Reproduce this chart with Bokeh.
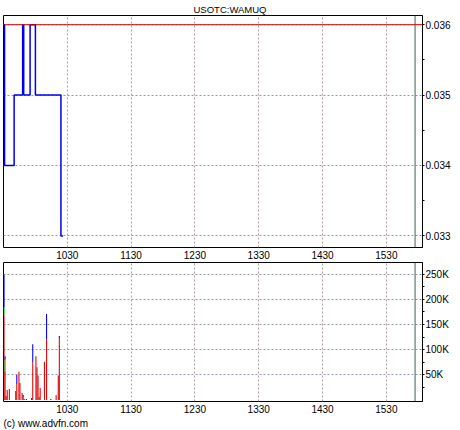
from bokeh.plotting import figure
from bokeh.layouts import column
from bokeh.models import Range1d, FixedTicker, Span, Title, NumeralTickFormatter, ColumnDataSource
from bokeh.embed import file_html
from bokeh.resources import INLINE


def tmin(s):
    s = s.replace(":", "")
    return int(s[:2]) * 60 + int(s[2:])


symbol = "USOTC:WAMUQ"
copyright_text = "(c) www.advfn.com"
session_start = "09:30"
session_end = "16:04"
marker_time = "15:57"
prev_close = 0.036

# intraday price (step line, value holds until next point)
price_time = ["09:30", "09:31", "09:40", "09:48", "09:49", "09:55", "10:00", "10:24", "10:26"]
price = [0.036, 0.034, 0.035, 0.036, 0.035, 0.036, 0.035, 0.033, 0.033]

# per-minute volume split by trade direction
vol_time = ["09:30", "09:31", "09:32", "09:33", "09:35", "09:41", "09:42", "09:44", "09:45",
            "09:47", "09:48", "09:49", "09:51", "09:56", "09:57", "10:00", "10:01", "10:02",
            "10:03", "10:04", "10:08", "10:10", "10:14", "10:19", "10:21", "10:22"]
vol_down = [168000, 56000, 8000, 20000, 22000, 18000, 32000, 56000, 34000,
            14000, 5000, 2000, 0, 0, 75000, 87000, 65000, 49000,
            6000, 24000, 76000, 120000, 0, 10000, 49000, 123000]
vol_unch = [16000, 24000, 0, 0, 0, 0, 0, 0, 0,
            0, 0, 0, 0, 0, 0, 0, 0, 0,
            0, 0, 0, 0, 0, 0, 0, 0]
vol_up = [65000, 7000, 0, 0, 0, 0, 18000, 0, 0,
          0, 5000, 0, 2000, 4000, 36000, 0, 0, 0,
          0, 0, 0, 51000, 2000, 0, 0, 4000]

x_tick_labels = ["1030", "1130", "1230", "1330", "1430", "1530"]
price_ticks = [0.033, 0.034, 0.035, 0.036]
price_minor_ticks = [0.0335, 0.0345, 0.0355]
vol_ticks = [50000, 100000, 150000, 200000, 250000]
vol_tick_labels = ["50K", "100K", "150K", "200K", "250K"]
vol_minor_ticks = [25000, 75000, 125000, 175000, 225000]

FONT = "Liberation Sans"
RED = "#e00000"
BLUE = "#0000f0"
GREEN = "#00c000"

x_range = Range1d(tmin(session_start), tmin(session_end))
x_ticks = [tmin(s) for s in x_tick_labels]
x_overrides = {t: s for t, s in zip(x_ticks, x_tick_labels)}


def style(p):
    p.outline_line_color = "black"
    p.outline_line_width = 1
    p.background_fill_color = "white"
    p.border_fill_color = "white"
    ax = p.xaxis[0]
    ax.ticker = FixedTicker(ticks=x_ticks)
    ax.major_label_overrides = x_overrides
    ax.axis_line_color = None
    ax.major_tick_line_color = None
    ax.minor_tick_line_color = None
    ax.major_tick_out = 0
    ax.major_tick_in = 0
    ax.major_label_standoff = 3
    ax.major_label_text_font = FONT
    ax.major_label_text_font_size = "10px"
    ax.major_label_text_color = "black"
    ay = p.yaxis[0]
    ay.axis_line_color = "black"
    ay.major_tick_out = 2
    ay.major_tick_in = 0
    ay.minor_tick_out = 2
    ay.minor_tick_in = 0
    ay.major_tick_line_color = "black"
    ay.minor_tick_line_color = "black"
    ay.major_label_standoff = 1
    ay.major_label_text_font = FONT
    ay.major_label_text_font_size = "10px"
    ay.major_label_text_color = "black"
    p.xgrid.grid_line_color = "#b0a0aa"
    p.xgrid.grid_line_dash = "2 2"
    p.ygrid.grid_line_color = "#9898a8"
    p.ygrid.grid_line_dash = "2 2"
    p.add_layout(Span(location=tmin(marker_time), dimension="height",
                      line_color="#3c5c5c", line_width=1))


# ---- price panel ----
p1 = figure(width=460, height=262, x_range=x_range,
            y_range=Range1d(0.032835, 0.036131),
            y_axis_location="right", output_backend="svg", toolbar_location=None,
            min_border_left=3, min_border_right=38, min_border_top=14, min_border_bottom=15)
p1.title.text = symbol
p1.title.align = "left"
p1.title.offset = 190
p1.title.standoff = 2
p1.title.text_font = FONT
p1.title.text_font_size = "9.5px"
p1.title.text_font_style = "normal"
p1.title.text_color = "black"
style(p1)
p1.yaxis[0].ticker = FixedTicker(ticks=price_ticks, minor_ticks=price_minor_ticks)
p1.yaxis[0].formatter = NumeralTickFormatter(format="0.000")
p1.add_layout(Span(location=prev_close, dimension="width", line_color=RED, line_width=1))
p1.step([tmin(s) for s in price_time], price, mode="after",
        line_color=BLUE, line_width=1.5)

# ---- volume panel ----
p2 = figure(width=460, height=168, x_range=x_range,
            y_range=Range1d(-2800, 273000),
            y_axis_location="right", output_backend="svg", toolbar_location=None,
            min_border_left=3, min_border_right=38, min_border_top=0, min_border_bottom=29)
style(p2)
p2.yaxis[0].ticker = FixedTicker(ticks=vol_ticks, minor_ticks=vol_minor_ticks)
p2.yaxis[0].major_label_overrides = {t: s for t, s in zip(vol_ticks, vol_tick_labels)}
src = ColumnDataSource(dict(t=[tmin(s) + 0.5 for s in vol_time],
                            down=vol_down, unch=vol_unch, up=vol_up))
p2.vbar_stack(["down", "unch", "up"], x="t", width=1.0, source=src,
              color=[RED, GREEN, BLUE], line_color=None)
p2.add_layout(Title(text=copyright_text, align="left", text_font=FONT,
                    text_font_size="10px", text_font_style="normal",
                    text_color="black", standoff=0), "below")

layout = column(p1, p2, spacing=0)
open("out.html", "w").write(file_html(layout, INLINE))
